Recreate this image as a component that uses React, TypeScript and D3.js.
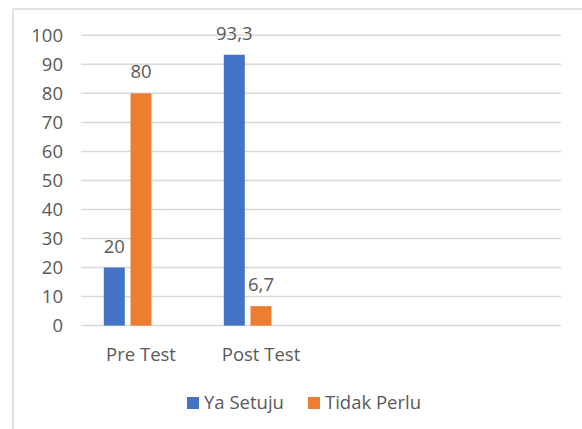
import React from "react";
import * as d3 from "d3";

const categories = ["Pre Test", "Post Test", "", ""];
const seriesNames = ["Ya Setuju", "Tidak Perlu", ""];
const yaSetuju = [20, 93.3, null, null];
const tidakPerlu = [80, 6.7, null, null];
const hiddenSeries = [null, null, null, null];
const seriesColors = ["#4472C4", "#ED7D31", "none"];
const yTicks = [0, 10, 20, 30, 40, 50, 60, 70, 80, 90, 100];

const W = 582;
const H = 429;

export default function App() {
  const seriesValues = [yaSetuju, tidakPerlu, hiddenSeries];
  const x = d3
    .scaleBand<number>()
    .domain(d3.range(categories.length))
    .range([81, 561])
    .paddingInner(0)
    .paddingOuter(0);
  const inner = d3
    .scaleBand<number>()
    .domain(d3.range(seriesNames.length))
    .range([0, x.bandwidth()])
    .paddingInner(0.213)
    .paddingOuter(0.854);
  const y = d3.scaleLinear().domain([0, 100]).range([325.6, 35.3]);
  const font = "'Open Sans', sans-serif";
  const fs = 18.5;
  const textColor = "#595959";
  const fmt = (v: number) => String(v).replace(".", ",");

  const legendItems = [
    { name: seriesNames[0], color: seriesColors[0], x: 187 },
    { name: seriesNames[1], color: seriesColors[1], x: 308 },
  ];

  return (
    <svg
      width={W}
      height={H}
      style={{ position: "absolute", left: 0, top: 0, background: "#fff" }}
    >
      <rect x={0} y={0} width={W} height={H} fill="#fff" />
      <line x1={13} x2={13} y1={9} y2={H} stroke="#d9d9d9" strokeWidth={1.5} />
      <line x1={13} x2={W} y1={9} y2={9} stroke="#d9d9d9" strokeWidth={1.5} />
      {yTicks.map((t) => (
        <g key={t}>
          <line
            x1={x.range()[0]}
            x2={x.range()[1]}
            y1={y(t)}
            y2={y(t)}
            stroke="#d9d9d9"
            strokeWidth={1.5}
          />
          <text
            x={63}
            y={y(t)}
            dy="0.35em"
            textAnchor="end"
            fontFamily={font}
            fontSize={fs}
            fill={textColor}
          >
            {t}
          </text>
        </g>
      ))}
      {seriesValues.map((vals, si) =>
        vals.map((v, ci) =>
          v == null ? null : (
            <g key={`${si}-${ci}`}>
              <rect
                x={(x(ci) as number) + (inner(si) as number)}
                y={y(v)}
                width={inner.bandwidth()}
                height={y(0) - y(v)}
                fill={seriesColors[si]}
              />
              <text
                x={(x(ci) as number) + (inner(si) as number) + inner.bandwidth() / 2}
                y={y(v) - 15}
                textAnchor="middle"
                fontFamily={font}
                fontSize={fs}
                fill={textColor}
              >
                {fmt(v)}
              </text>
            </g>
          )
        )
      )}
      {categories.map((c, ci) =>
        c ? (
          <text
            key={ci}
            x={(x(ci) as number) + x.bandwidth() / 2}
            y={361}
            textAnchor="middle"
            fontFamily={font}
            fontSize={fs}
            fill={textColor}
          >
            {c}
          </text>
        ) : null
      )}
      {legendItems.map((it) => (
        <g key={it.name}>
          <rect x={it.x} y={397} width={12} height={12} fill={it.color} />
          <text
            x={it.x + 17}
            y={409}
            fontFamily={font}
            fontSize={fs}
            fill={textColor}
          >
            {it.name}
          </text>
        </g>
      ))}
    </svg>
  );
}
